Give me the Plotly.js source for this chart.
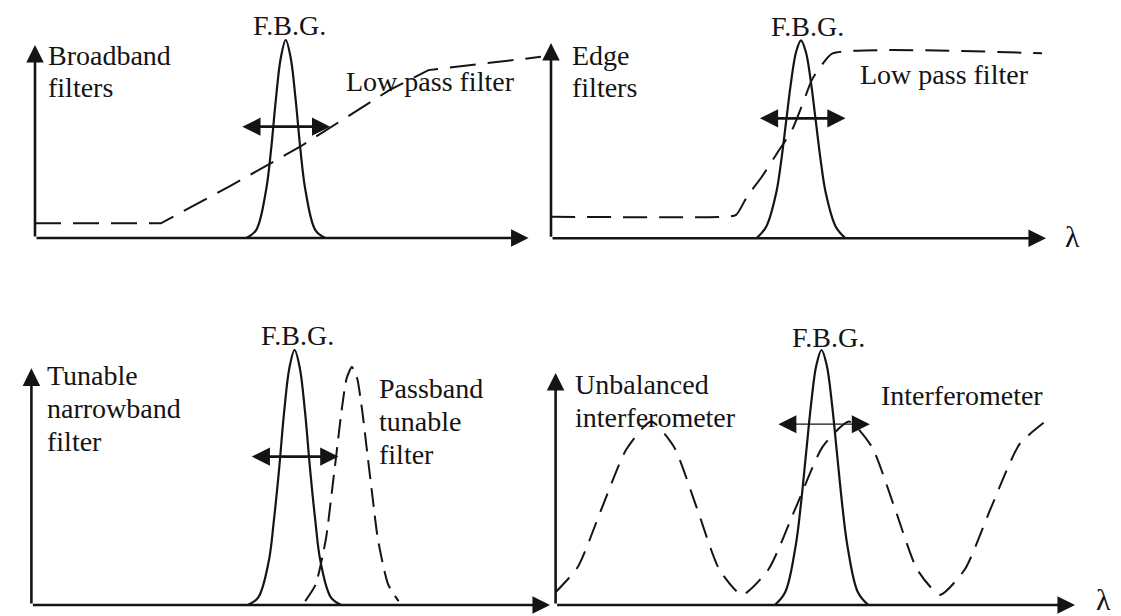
<!DOCTYPE html>
<html>
<head>
<meta charset="utf-8">
<script src="https://cdn.plot.ly/plotly-3.0.1.min.js"></script>
<style>
  html, body { margin: 0; padding: 0; background: #ffffff; }
  #chart { width: 1121px; height: 616px; }
</style>
</head>
<body>
<div id="chart"></div>
<script>
// ---------------- DATA ----------------
// Panel 1 : Broadband filters
const p1FbgX = [42.8, 44.8, 46.8, 47.8, 48.8, 49.8, 50.8, 51.8, 52.8, 53.8, 54.8, 56.8, 58.8];
const p1FbgY = [0, 0.04, 0.24, 0.44, 0.70, 0.91, 1.0, 0.91, 0.70, 0.44, 0.24, 0.04, 0];
const p1LowPassX = [0, 25.5, 39.5, 53.7, 71.8, 79.7, 102.5];
const p1LowPassY = [0.074, 0.074, 0.262, 0.461, 0.747, 0.848, 0.915];
const p1Shift = [41.7, 59.8];      // double arrow ends (λ units)
const p1ShiftLevel = 0.562;

// Panel 2 : Edge filters
const p2FbgX = [41.5, 43.5, 45.5, 46.5, 47.5, 48.5, 49.5, 50.5, 51.5, 52.5, 53.5, 54.5, 55.5, 57.5, 59.5];
const p2FbgY = [0, 0.06, 0.23, 0.39, 0.59, 0.79, 0.94, 1.0, 0.94, 0.79, 0.59, 0.39, 0.23, 0.06, 0];
const p2EdgeX = [0, 35.2, 37.4, 39.6, 42.6, 45.7, 48.7, 50.9, 52.7, 54.7, 56.9, 99.2];
const p2EdgeY = [0.109, 0.109, 0.118, 0.21, 0.311, 0.431, 0.547, 0.683, 0.80, 0.875, 0.934, 0.934];
const p2Shift = [41.9, 59.5];
const p2ShiftLevel = 0.606;

// Panel 3 : Tunable narrowband filter
const p3FbgX = [41.75, 43.75, 45.75, 46.75, 47.75, 48.75, 49.75, 50.75, 51.75, 52.75, 53.75, 54.75, 55.75, 57.75, 59.75];
const p3FbgY = [0, 0.03, 0.17, 0.33, 0.53, 0.76, 0.93, 1.0, 0.93, 0.76, 0.53, 0.33, 0.17, 0.03, 0];
const p3PassX = [52.8, 54.8, 56.8, 57.8, 58.8, 59.8, 60.8, 61.8, 62.8, 63.8, 64.8, 65.8, 66.8, 68.8, 70.8];
const p3PassY = [0.015, 0.08, 0.26, 0.42, 0.59, 0.76, 0.89, 0.933, 0.89, 0.76, 0.59, 0.42, 0.26, 0.08, 0.015];
const p3Shift = [42.2, 59.2];
const p3ShiftLevel = 0.582;

// Panel 4 : Unbalanced interferometer
const p4FbgX = [42.2, 44.2, 46.2, 47.2, 48.2, 49.2, 50.2, 51.2, 52.2, 53.2, 54.2, 55.2, 56.2, 58.2, 60.2];
const p4FbgY = [0, 0.05, 0.23, 0.39, 0.59, 0.79, 0.94, 1.0, 0.94, 0.79, 0.59, 0.39, 0.23, 0.05, 0];
const p4InterfX = [0, 4.3, 8.9, 13.6, 18.4, 22.8, 27.2, 31.5, 35.9, 41.0, 46.2, 51.4, 56.5, 60.9, 65.3, 69.6, 74.0, 78.8, 84.0, 89.3, 94.3];
const p4InterfY = [0.05, 0.15, 0.38, 0.61, 0.72, 0.62, 0.38, 0.14, 0.04, 0.14, 0.38, 0.62, 0.72, 0.62, 0.38, 0.14, 0.04, 0.14, 0.39, 0.63, 0.72];
const p4Shift = [42.6, 60.5];
const p4ShiftLevel = 0.709;

// Axis extents (λ axis length, intensity axis height) per panel
const axisEnds = [[100, 0.975], [100, 0.986], [100, 0.928], [100, 0.91]];

// Labels
const fbgLabel = 'F.B.G.';
const lambdaLabel = 'λ';
const p1Labels = ['Broadband', 'filters', 'Low pass filter'];
const p2Labels = ['Edge', 'filters', 'Low pass filter'];
const p3Labels = ['Tunable', 'narrowband', 'filter', 'Passband', 'tunable', 'filter'];
const p4Labels = ['Unbalanced', 'interferometer', 'Interferometer'];

// ---------------- LAYOUT GEOMETRY ----------------
const W = 1121, H = 616;
// origin pixel, px per λ-unit, px per intensity unit, box [left, top, right, bottom]
const panels = [
  {ox: 35,    oy: 238,   sx: 4.936, sy: 198, box: [0, 0, 560, 300]},
  {ox: 551,   oy: 238.3, sx: 4.95,  sy: 198, box: [540, 0, 1121, 300]},
  {ox: 31.4,  oy: 605,   sx: 5.186, sy: 255, box: [0, 310, 560, 616]},
  {ox: 555.6, oy: 605,   sx: 5.194, sy: 255, box: [540, 310, 1121, 616]}
];

const INK = '#141414';
const FONT = 'Liberation Serif, Times New Roman, serif';

const layout = {
  width: W, height: H,
  margin: {l: 0, r: 0, t: 0, b: 0},
  paper_bgcolor: '#ffffff',
  plot_bgcolor: 'rgba(0,0,0,0)',
  showlegend: false,
  annotations: []
};

panels.forEach((p, i) => {
  const [l, t, r, b] = p.box;
  const sfx = i === 0 ? '' : String(i + 1);
  layout['xaxis' + sfx] = {
    domain: [l / W, r / W],
    range: [(l - p.ox) / p.sx, (r - p.ox) / p.sx],
    visible: false, fixedrange: true, anchor: 'y' + sfx
  };
  layout['yaxis' + sfx] = {
    domain: [(H - b) / H, (H - t) / H],
    range: [(p.oy - b) / p.sy, (p.oy - t) / p.sy],
    visible: false, fixedrange: true, anchor: 'x' + sfx
  };
});

function ax(i) { const s = i === 0 ? '' : String(i + 1); return {x: 'x' + s, y: 'y' + s}; }

function arrow(i, x0, y0, x1, y1, opt) {
  const r = ax(i);
  return Object.assign({
    xref: r.x, yref: r.y, axref: r.x, ayref: r.y,
    x: x1, y: y1, ax: x0, ay: y0, text: '', showarrow: true,
    arrowhead: 2, arrowsize: 1.35, arrowwidth: 2.6, arrowcolor: INK,
    standoff: 0, startstandoff: 0
  }, opt || {});
}

// axis arrows
axisEnds.forEach((e, i) => {
  layout.annotations.push(arrow(i, 0, 0, e[0], 0));
  layout.annotations.push(arrow(i, 0, 0, 0, e[1]));
});

// tuning (double) arrows
const shifts = [[p1Shift, p1ShiftLevel], [p2Shift, p2ShiftLevel], [p3Shift, p3ShiftLevel], [p4Shift, p4ShiftLevel]];
shifts.forEach((s, i) => {
  const thin = i === 3;
  layout.annotations.push(arrow(i, s[0][0], s[1], s[0][1], s[1], {
    arrowside: 'end+start', arrowhead: 2, startarrowhead: 2,
    arrowwidth: thin ? 1.2 : 2.8,
    arrowsize: thin ? 3.0 : 1.3, startarrowsize: thin ? 3.0 : 1.3
  }));
});

// text labels (paper pixel positions)
function label(text, px, py, anchor, size) {
  return {
    xref: 'paper', yref: 'paper', x: px / W, y: 1 - py / H,
    xanchor: anchor || 'left', yanchor: 'middle', text: text, showarrow: false,
    font: {family: FONT, size: size || 28, color: INK}, borderpad: 0
  };
}
layout.annotations.push(
  label(fbgLabel, 289, 25.5, 'center', 28),
  label(p1Labels[0], 47, 55),
  label(p1Labels[1], 47, 87.5),
  label(p1Labels[2], 345, 81.6),

  label(fbgLabel, 807.5, 27, 'center', 28),
  label(p2Labels[0], 570.5, 55),
  label(p2Labels[1], 570.5, 87.5),
  label(p2Labels[2], 859, 75),
  label(lambdaLabel, 1072, 237, 'center', 30),

  label(fbgLabel, 297, 335.5, 'center', 28),
  label(p3Labels[0], 45.5, 375.5),
  label(p3Labels[1], 45.5, 408.5),
  label(p3Labels[2], 45.5, 441.5),
  label(p3Labels[3], 377.6, 388.5),
  label(p3Labels[4], 377.6, 421.5),
  label(p3Labels[5], 377.6, 454.5),

  label(fbgLabel, 828, 337, 'center', 28),
  label(p4Labels[0], 574, 384),
  label(p4Labels[1], 574, 417),
  label(p4Labels[2], 879.7, 395),
  label(lambdaLabel, 1103, 599, 'center', 30)
);

// ---------------- TRACES ----------------
function solid(i, x, y) {
  const r = ax(i);
  return {x: x, y: y, xaxis: r.x, yaxis: r.y, type: 'scatter', mode: 'lines',
          line: {color: INK, width: 2.2, shape: 'spline', smoothing: 1}, hoverinfo: 'skip'};
}
function dashed(i, x, y, dash, shape) {
  const r = ax(i);
  return {x: x, y: y, xaxis: r.x, yaxis: r.y, type: 'scatter', mode: 'lines',
          line: {color: INK, width: 2, dash: dash, shape: shape || 'spline', smoothing: 0.6}, hoverinfo: 'skip'};
}

const traces = [
  dashed(0, p1LowPassX, p1LowPassY, '26px,12px', 'linear'),
  solid(0, p1FbgX, p1FbgY),
  dashed(1, p2EdgeX, p2EdgeY, '24px,12px', 'spline'),
  solid(1, p2FbgX, p2FbgY),
  dashed(2, p3PassX, p3PassY, '19px,9px', 'spline'),
  solid(2, p3FbgX, p3FbgY),
  dashed(3, p4InterfX, p4InterfY, '20px,11px', 'spline'),
  solid(3, p4FbgX, p4FbgY)
];

Plotly.newPlot('chart', traces, layout, {staticPlot: true, displayModeBar: false});
</script>
</body>
</html>
